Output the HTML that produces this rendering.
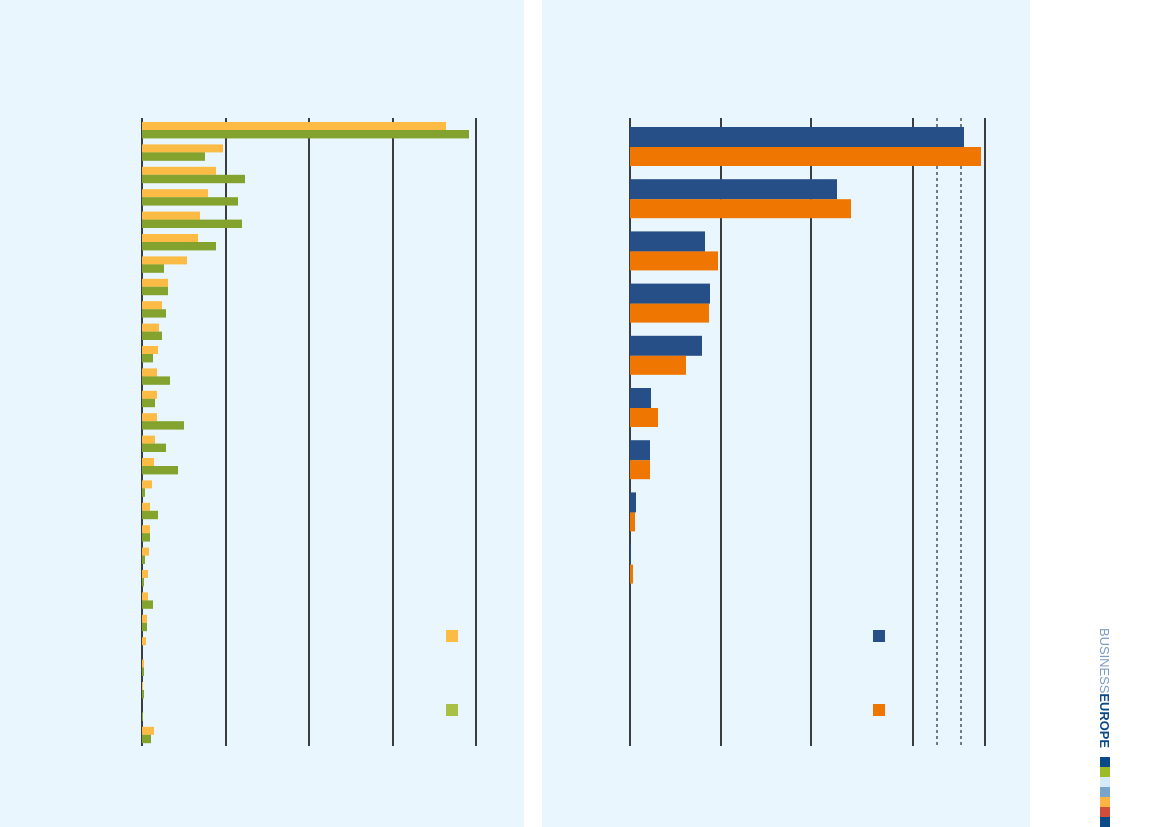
<!DOCTYPE html>
<html><head><meta charset="utf-8"><style>html,body{margin:0;padding:0;background:#fff}svg{display:block}</style></head>
<body>
<svg width="1169" height="827" xmlns="http://www.w3.org/2000/svg">
<rect x="0" y="0" width="524" height="827" fill="#e9f6fe"/>
<rect x="542" y="0" width="488" height="827" fill="#e9f6fe"/>
<g stroke="#000" stroke-width="1.5">
<line x1="142" y1="118" x2="142" y2="746"/>
<line x1="226" y1="118" x2="226" y2="746"/>
<line x1="309" y1="118" x2="309" y2="746"/>
<line x1="393" y1="118" x2="393" y2="746"/>
<line x1="476" y1="118" x2="476" y2="746"/>
<line x1="630" y1="118" x2="630" y2="746"/>
<line x1="721" y1="118" x2="721" y2="746"/>
<line x1="811" y1="118" x2="811" y2="746"/>
<line x1="913" y1="118" x2="913" y2="746"/>
<line x1="985" y1="118" x2="985" y2="746"/>
</g>
<g stroke="#000" stroke-width="1" stroke-dasharray="3,3">
<line x1="937" y1="118" x2="937" y2="746"/>
<line x1="961" y1="118" x2="961" y2="746"/>
</g>
<g id="left"></g>
<g id="right"></g>
<rect x="446" y="630" width="12" height="12" fill="#fbbb45"/>
<rect x="446" y="704" width="12" height="12" fill="#a8c045"/>
<rect x="873" y="630" width="12" height="12" fill="#274f87"/>
<rect x="873" y="704" width="12" height="12" fill="#ee7601"/>
<text transform="translate(1100,628) rotate(90)" font-family="Liberation Sans, sans-serif" font-size="13" fill="#7a9cc4" textLength="120" lengthAdjust="spacingAndGlyphs">BUSINESS<tspan fill="#0b4a86" font-weight="bold">EUROPE</tspan></text>
<rect x="1100" y="757" width="10" height="10" fill="#0b4a86"/>
<rect x="1100" y="767" width="10" height="10" fill="#9dba27"/>
<rect x="1100" y="777" width="10" height="10" fill="#d4eaf8"/>
<rect x="1100" y="787" width="10" height="10" fill="#7ba4cc"/>
<rect x="1100" y="797" width="10" height="10" fill="#fbb441"/>
<rect x="1100" y="807" width="10" height="10" fill="#d04e3b"/>
<rect x="1100" y="817" width="10" height="10" fill="#0b4a86"/>
</svg>
<script>
var L=[[446,469],[223,205],[216,245],[208,238],[200,242],[198,216],[187,164],[168,168],[162,166],[159,162],[158,153],[157,170],[157,155],[157,184],[155,166],[154,178],[152,145],[150,158],[150,150],[149,145],[148,144],[148,153],[147,147],[146,142],[144,144],[143,144],[142,143],[154,151]];
var R=[[964,981],[837,851],[705,718],[710,709],[702,686],[651,658],[650,650],[636,635],[631,633]];
var ns="http://www.w3.org/2000/svg";
function r(g,x,y,w,h,c){if(w<=0)return;var e=document.createElementNS(ns,"rect");e.setAttribute("x",x);e.setAttribute("y",y);e.setAttribute("width",w);e.setAttribute("height",h);e.setAttribute("fill",c);g.appendChild(e);}
var gl=document.getElementById("left"),gr=document.getElementById("right");
L.forEach(function(v,i){var y=122+i*22.4;r(gl,142,y,v[0]-142,8,"#fbbb45");r(gl,142,y+8,v[1]-142,8.4,"#83a22e");});
R.forEach(function(v,i){var y=127+i*52.2;r(gr,630,y,v[0]-630,20,"#274f87");r(gr,630,y+20,v[1]-630,19,"#ee7601");});
</script>
</body></html>
